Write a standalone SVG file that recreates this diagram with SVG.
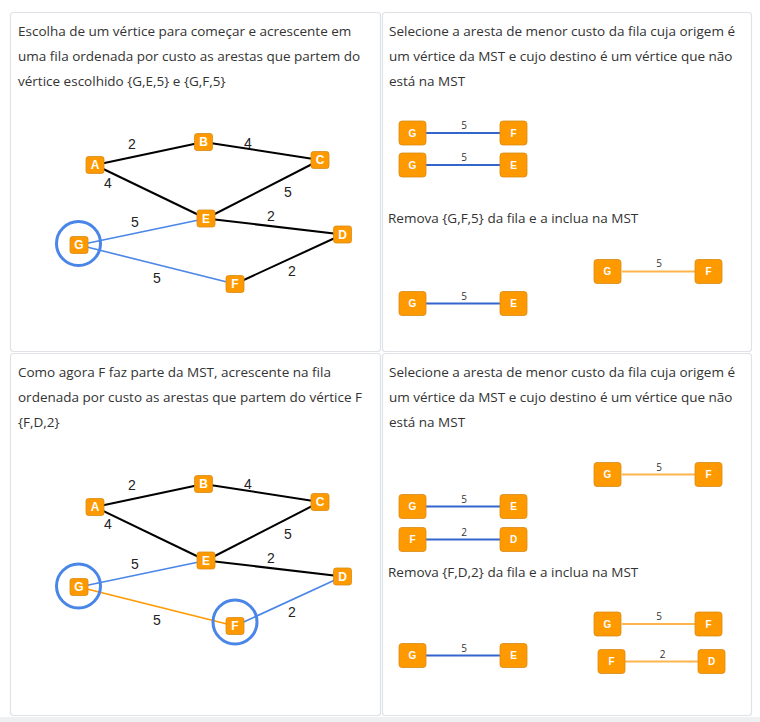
<svg xmlns="http://www.w3.org/2000/svg" width="760" height="722" viewBox="0 0 760 722">
<style>
.panel{fill:#fff;stroke:#dfe3e7;stroke-width:1.2}
.txt{font-family:"Open Sans","Noto Sans",sans-serif;font-size:13.5px;fill:#333}
.n{fill:#ff9900;stroke:#d88a14;stroke-width:0.8}
.nl{font-family:"Liberation Sans",Arial,sans-serif;font-weight:bold;font-size:12px;fill:#fff;text-anchor:middle}
.ql{font-family:"Liberation Sans",Arial,sans-serif;font-weight:bold;font-size:10px;fill:#fff;text-anchor:middle}
.el{font-family:"Liberation Sans",Arial,sans-serif;font-size:14px;fill:#222;text-anchor:middle}
.qel{font-family:"Open Sans","Liberation Sans",sans-serif;font-size:10px;fill:#333;text-anchor:middle}
.blk{stroke:#000;stroke-width:2;fill:none}
.blu{stroke:#4a86e8;stroke-width:1.6;fill:none}
.org{stroke:#ff9900;stroke-width:1.6;fill:none}
.qblu{stroke:#3366cc;stroke-width:2;fill:none}
.qorg{stroke:#ffb54d;stroke-width:2;fill:none}
.ring{stroke:#4a86e8;stroke-width:3;fill:none}
</style>
<rect width="760" height="722" fill="#fff"/>
<g id="panels">
<rect class="panel" x="10.5" y="12.5" width="370" height="339" rx="3"/>
<rect class="panel" x="382.5" y="12.5" width="369" height="339" rx="3"/>
<rect class="panel" x="10.5" y="353.5" width="370" height="362" rx="3"/>
<rect class="panel" x="382.5" y="353.5" width="369" height="362" rx="3"/>
<rect x="0" y="717" width="760" height="5" fill="#eef0f2"/>
</g>
<g id="texts">
<text class="txt" x="18" y="36">Escolha de um vértice para começar e acrescente em</text>
<text class="txt" x="18" y="61">uma fila ordenada por custo as arestas que partem do</text>
<text class="txt" x="18" y="86">vértice escolhido {G,E,5} e {G,F,5}</text>
<text class="txt" x="389" y="36">Selecione a aresta de menor custo da fila cuja origem é</text>
<text class="txt" x="389" y="61">um vértice da MST e cujo destino é um vértice que não</text>
<text class="txt" x="389" y="86">está na MST</text>
<text class="txt" x="388" y="223">Remova {G,F,5} da fila e a inclua na MST</text>
<text class="txt" x="18" y="377">Como agora F faz parte da MST, acrescente na fila</text>
<text class="txt" x="18" y="402">ordenada por custo as arestas que partem do vértice F</text>
<text class="txt" x="18" y="427">{F,D,2}</text>
<text class="txt" x="389" y="377">Selecione a aresta de menor custo da fila cuja origem é</text>
<text class="txt" x="389" y="402">um vértice da MST e cujo destino é um vértice que não</text>
<text class="txt" x="389" y="427">está na MST</text>
<text class="txt" x="388" y="577">Remova {F,D,2} da fila e a inclua na MST</text>
</g>
<g id="connectors">
<line class="blk" x1="95" y1="165" x2="203.5" y2="142"/>
<line class="blk" x1="203.5" y1="142" x2="320" y2="160"/>
<line class="blk" x1="95" y1="165" x2="206" y2="218.5"/>
<line class="blk" x1="320" y1="160" x2="206" y2="218.5"/>
<line class="blk" x1="206" y1="218.5" x2="342.5" y2="234.5"/>
<line class="blk" x1="235" y1="284" x2="342.5" y2="234.5"/>
<line class="blu" x1="79" y1="245" x2="206" y2="218.5"/>
<line class="blu" x1="79" y1="245" x2="235" y2="284"/>
<line class="blk" x1="95" y1="507" x2="203.5" y2="484"/>
<line class="blk" x1="203.5" y1="484" x2="320" y2="502"/>
<line class="blk" x1="95" y1="507" x2="206" y2="560.5"/>
<line class="blk" x1="320" y1="502" x2="206" y2="560.5"/>
<line class="blk" x1="206" y1="560.5" x2="342.5" y2="576.5"/>
<line class="blu" x1="235" y1="626" x2="342.5" y2="576.5"/>
<line class="blu" x1="79" y1="587" x2="206" y2="560.5"/>
<line class="org" x1="79" y1="587" x2="235" y2="626"/>
<line class="qblu" x1="426" y1="133" x2="500" y2="133"/>
<line class="qblu" x1="426" y1="165" x2="500" y2="165"/>
<line class="qorg" x1="622" y1="271.5" x2="695" y2="271.5"/>
<line class="qblu" x1="426" y1="303.5" x2="500" y2="303.5"/>
<line class="qorg" x1="622" y1="474.5" x2="695" y2="474.5"/>
<line class="qblu" x1="426" y1="506.5" x2="500" y2="506.5"/>
<line class="qblu" x1="426" y1="539.5" x2="500" y2="539.5"/>
<line class="qorg" x1="622" y1="624" x2="695" y2="624"/>
<line class="qorg" x1="625" y1="661.5" x2="698" y2="661.5"/>
<line class="qblu" x1="426" y1="655.5" x2="500" y2="655.5"/>
</g>
<g id="edge-labels">
<text class="el" x="132" y="149">2</text>
<text class="el" x="248" y="148">4</text>
<text class="el" x="108" y="188">4</text>
<text class="el" x="288" y="197">5</text>
<text class="el" x="271" y="221">2</text>
<text class="el" x="135" y="227">5</text>
<text class="el" x="157" y="283">5</text>
<text class="el" x="292" y="276">2</text>
<text class="el" x="132" y="490">2</text>
<text class="el" x="248" y="489">4</text>
<text class="el" x="108" y="529">4</text>
<text class="el" x="288" y="539">5</text>
<text class="el" x="271" y="563">2</text>
<text class="el" x="135" y="569">5</text>
<text class="el" x="157" y="625">5</text>
<text class="el" x="292" y="617">2</text>
<text class="qel" x="464" y="129">5</text>
<text class="qel" x="464" y="161">5</text>
<text class="qel" x="659" y="267">5</text>
<text class="qel" x="464" y="300">5</text>
<text class="qel" x="659" y="471">5</text>
<text class="qel" x="464" y="503">5</text>
<text class="qel" x="464" y="536">2</text>
<text class="qel" x="659" y="620">5</text>
<text class="qel" x="662.5" y="658">2</text>
<text class="qel" x="464" y="652">5</text>
</g>
<g id="rings">
<circle class="ring" cx="78.5" cy="243.5" r="22"/>
<circle class="ring" cx="78.5" cy="586" r="22"/>
<circle class="ring" cx="235" cy="622" r="22"/>
</g>
<g id="graph1-nodes">
<g id="t-A"><rect class="n" x="86" y="156.5" width="18" height="17" rx="2.5"/><text class="nl" x="95" y="169.3">A</text></g>
<g id="t-B"><rect class="n" x="194.5" y="133.5" width="18" height="17" rx="2.5"/><text class="nl" x="203.5" y="146.3">B</text></g>
<g id="t-C"><rect class="n" x="311" y="151.5" width="18" height="17" rx="2.5"/><text class="nl" x="320" y="164.3">C</text></g>
<g id="t-E"><rect class="n" x="197" y="210" width="18" height="17" rx="2.5"/><text class="nl" x="206" y="222.8">E</text></g>
<g id="t-D"><rect class="n" x="333.5" y="226" width="18" height="17" rx="2.5"/><text class="nl" x="342.5" y="238.8">D</text></g>
<g id="t-G"><rect class="n" x="70" y="236.5" width="18" height="17" rx="2.5"/><text class="nl" x="79" y="249.3">G</text></g>
<g id="t-F"><rect class="n" x="226" y="275.5" width="18" height="17" rx="2.5"/><text class="nl" x="235" y="288.3">F</text></g>
</g>
<g id="graph2-nodes">
<g id="b-A"><rect class="n" x="86" y="498.5" width="18" height="17" rx="2.5"/><text class="nl" x="95" y="511.3">A</text></g>
<g id="b-B"><rect class="n" x="194.5" y="475.5" width="18" height="17" rx="2.5"/><text class="nl" x="203.5" y="488.3">B</text></g>
<g id="b-C"><rect class="n" x="311" y="493.5" width="18" height="17" rx="2.5"/><text class="nl" x="320" y="506.3">C</text></g>
<g id="b-E"><rect class="n" x="197" y="552" width="18" height="17" rx="2.5"/><text class="nl" x="206" y="564.8">E</text></g>
<g id="b-D"><rect class="n" x="333.5" y="568" width="18" height="17" rx="2.5"/><text class="nl" x="342.5" y="580.8">D</text></g>
<g id="b-G"><rect class="n" x="70" y="578.5" width="18" height="17" rx="2.5"/><text class="nl" x="79" y="591.3">G</text></g>
<g id="b-F"><rect class="n" x="226" y="617.5" width="18" height="17" rx="2.5"/><text class="nl" x="235" y="630.3">F</text></g>
</g>
<g id="queue-nodes">
<g id="q1"><rect class="n" x="399" y="121" width="27" height="24" rx="3"/><text class="ql" x="412.5" y="136.5">G</text><rect class="n" x="500" y="121" width="27" height="24" rx="3"/><text class="ql" x="513.5" y="136.5">F</text></g>
<g id="q2"><rect class="n" x="399" y="153" width="27" height="24" rx="3"/><text class="ql" x="412.5" y="168.5">G</text><rect class="n" x="500" y="153" width="27" height="24" rx="3"/><text class="ql" x="513.5" y="168.5">E</text></g>
<g id="q3"><rect class="n" x="594" y="259.5" width="27" height="24" rx="3"/><text class="ql" x="607.5" y="275">G</text><rect class="n" x="695" y="259.5" width="27" height="24" rx="3"/><text class="ql" x="708.5" y="275">F</text></g>
<g id="q4"><rect class="n" x="399" y="291.5" width="27" height="24" rx="3"/><text class="ql" x="412.5" y="307">G</text><rect class="n" x="500" y="291.5" width="27" height="24" rx="3"/><text class="ql" x="513.5" y="307">E</text></g>
<g id="q5"><rect class="n" x="594" y="462.5" width="27" height="24" rx="3"/><text class="ql" x="607.5" y="478">G</text><rect class="n" x="695" y="462.5" width="27" height="24" rx="3"/><text class="ql" x="708.5" y="478">F</text></g>
<g id="q6"><rect class="n" x="399" y="494.5" width="27" height="24" rx="3"/><text class="ql" x="412.5" y="510">G</text><rect class="n" x="500" y="494.5" width="27" height="24" rx="3"/><text class="ql" x="513.5" y="510">E</text></g>
<g id="q7"><rect class="n" x="399" y="527.5" width="27" height="24" rx="3"/><text class="ql" x="412.5" y="543">F</text><rect class="n" x="500" y="527.5" width="27" height="24" rx="3"/><text class="ql" x="513.5" y="543">D</text></g>
<g id="q8"><rect class="n" x="594" y="612" width="27" height="24" rx="3"/><text class="ql" x="607.5" y="627.5">G</text><rect class="n" x="695" y="612" width="27" height="24" rx="3"/><text class="ql" x="708.5" y="627.5">F</text></g>
<g id="q9"><rect class="n" x="598" y="649.5" width="27" height="24" rx="3"/><text class="ql" x="611.5" y="665">F</text><rect class="n" x="698" y="649.5" width="27" height="24" rx="3"/><text class="ql" x="711.5" y="665">D</text></g>
<g id="q10"><rect class="n" x="399" y="643.5" width="27" height="24" rx="3"/><text class="ql" x="412.5" y="659">G</text><rect class="n" x="500" y="643.5" width="27" height="24" rx="3"/><text class="ql" x="513.5" y="659">E</text></g>
</g>
</svg>
